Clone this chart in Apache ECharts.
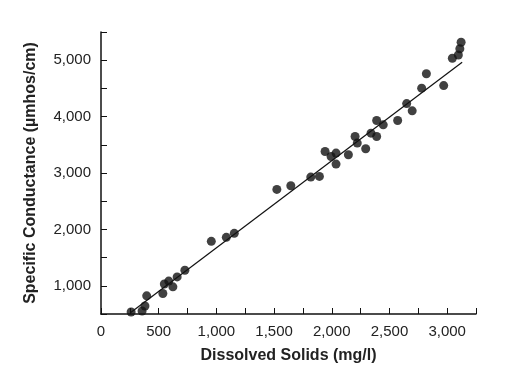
<!DOCTYPE html>
<html>
<head>
<meta charset="utf-8">
<script src="https://cdn.jsdelivr.net/npm/echarts@6/dist/echarts.min.js"></script>
<style>
html,body{margin:0;padding:0;background:#fff;}
#chart{width:505px;height:376px;}
</style>
</head>
<body>
<div id="chart"></div>
<script>
// Dissolved solids (mg/l) for each sample
var solids = [261,356,381,396,536,549,587,623,660,727,
  956,1086,1155,
  1524,1645,1818,1893,
  1942,1994,2037,2037,2144,2202,2221,2294,2340,2389,2389,2446,2571,
  2649,2697,2779,2820,2970,3045,3097,3110,3121];
// Specific conductance (µmhos/cm) for each sample
var conductance = [535,553,642,822,863,1031,1084,981,1158,1275,
  1788,1859,1930,
  2709,2774,2928,2939,
  3381,3293,3353,3158,3323,3647,3530,3429,3707,3647,3930,3854,3930,
  4231,4102,4504,4760,4550,5035,5093,5203,5319];
// Fitted line endpoints
var fitX = [255, 3130];
var fitY = [521, 4964];

var xTitle = 'Dissolved Solids (mg/l)';
var yTitle = 'Specific Conductance (\u00b5mhos/cm)';

var pts = solids.map(function(x, i){ return [x, conductance[i]]; });
var fit = fitX.map(function(x, i){ return [x, fitY[i]]; });

function fmt(step){
  return function(v){ return (v % step === 0) ? v.toLocaleString('en-US') : ''; };
}

var chart = echarts.init(document.getElementById('chart'), null, {renderer:'canvas'});
var font = '"Liberation Sans", Arial, sans-serif';
chart.setOption({
  animation:false,
  backgroundColor:'#fff',
  grid:{left:101, right:29, top:32, bottom:62, containLabel:false},
  xAxis:{
    type:'value', min:0, max:3250, interval:250,
    name:xTitle, nameLocation:'middle', nameGap:34,
    nameTextStyle:{fontFamily:font, fontSize:16, fontWeight:'bold', color:'#222'},
    axisLine:{show:true, onZero:false, lineStyle:{color:'#111', width:1.5}},
    axisTick:{show:true, inside:true, length:6, lineStyle:{color:'#111', width:1}},
    axisLabel:{formatter:fmt(500), fontFamily:font, fontSize:15, color:'#222', margin:10, showMaxLabel:true, showMinLabel:true},
    splitLine:{show:false}
  },
  yAxis:{
    type:'value', min:500, max:5500, interval:500,
    name:yTitle, nameLocation:'middle', nameGap:62,
    nameTextStyle:{fontFamily:font, fontSize:16, fontWeight:'bold', color:'#222'},
    axisLine:{show:true, onZero:false, lineStyle:{color:'#111', width:1.5}},
    axisTick:{show:true, inside:true, length:6, lineStyle:{color:'#111', width:1}},
    axisLabel:{formatter:fmt(1000), fontFamily:font, fontSize:15, color:'#222', margin:10},
    splitLine:{show:false}
  },
  series:[
    {type:'line', data:fit, symbol:'none', lineStyle:{color:'#111', width:1.2}, z:2},
    {type:'scatter', data:pts, symbol:'circle', symbolSize:9, itemStyle:{color:'#111'}, z:3}
  ]
});
</script>
</body>
</html>
